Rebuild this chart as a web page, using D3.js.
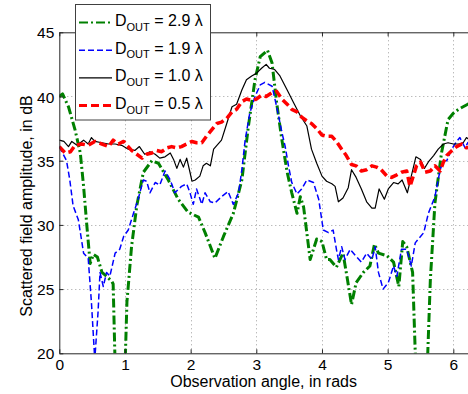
<!DOCTYPE html>
<html>
<head>
<meta charset="utf-8">
<script src="https://cdn.jsdelivr.net/npm/d3@7"></script>
<style>
  html, body { margin: 0; padding: 0; background: #fff; overflow: hidden; }
  svg { display: block; font-family: "Liberation Sans", Arial, sans-serif; }
</style>
</head>
<body>
<svg id="chart" width="468" height="394"></svg>
<script>
// ---- data (angle in rad, amplitude in dB) ----
const xTicks = [0, 1, 2, 3, 4, 5, 6];
const yTicks = [20, 25, 30, 35, 40, 45];
const seriesLabels = ["2.9 λ", "1.9 λ", "1.0 λ", "0.5 λ"];

const green = [[0,40],[0.05,40.2],[0.14,39.2],[0.24,37.4],[0.32,35.6],[0.37,33],[0.42,29.9],[0.47,27.0],[0.52,27.7],[0.58,27.5],[0.65,26.3],[0.72,26],[0.8,25.6],[0.82,25.4],[0.86,17],[0.99,17],[1.03,24],[1.1,28.3],[1.18,31.5],[1.28,34.1],[1.41,35],[1.51,34.8],[1.66,33.5],[1.81,32],[1.96,31],[2.12,30.6],[2.22,29.4],[2.37,27.4],[2.5,29.1],[2.65,30.9],[2.78,33.5],[2.88,37.7],[2.98,41.3],[3.06,43.1],[3.17,43.6],[3.24,42.6],[3.31,39.5],[3.39,36.6],[3.47,34.1],[3.54,32.5],[3.62,30.9],[3.67,32.2],[3.72,31.4],[3.82,27.3],[3.92,28.9],[4.0,28.7],[4.07,27.3],[4.12,27.3],[4.22,26.7],[4.32,27.8],[4.37,26.3],[4.45,23.8],[4.52,25.5],[4.63,26.3],[4.73,26.8],[4.8,28.5],[4.86,27.8],[4.99,27.6],[5.09,27.1],[5.17,25.2],[5.23,28.7],[5.29,28.3],[5.38,26.3],[5.44,17],[5.59,17],[5.65,25.7],[5.72,31.7],[5.82,35.6],[5.92,38.2],[6.0,38.7],[6.08,39],[6.22,39.4],[6.28,39.5]];

const blue = [[0,36.1],[0.11,35],[0.16,33.5],[0.21,31.5],[0.29,30.4],[0.37,27.8],[0.44,27.4],[0.49,23.9],[0.54,19.5],[0.59,23.2],[0.62,26.3],[0.67,25.2],[0.72,26.3],[0.77,26],[0.85,27.8],[0.92,28.1],[0.98,29.1],[1.05,29.6],[1.13,30.9],[1.2,32],[1.28,33.5],[1.33,33.4],[1.38,32.5],[1.46,33.3],[1.53,33.1],[1.61,34.2],[1.69,33.5],[1.76,32.5],[1.86,33],[1.94,33.2],[1.99,32.5],[2.04,31.6],[2.09,32.8],[2.17,31.6],[2.22,32.5],[2.3,31.8],[2.37,31.7],[2.47,32.2],[2.57,32.6],[2.65,31.6],[2.73,32.5],[2.78,34.3],[2.83,36.6],[2.9,38.7],[2.98,40],[3.06,40.9],[3.13,41.1],[3.24,40.8],[3.31,39.2],[3.39,37.2],[3.44,36.1],[3.49,34.6],[3.54,33.3],[3.62,32.4],[3.69,32.8],[3.77,33.5],[3.87,33.3],[3.95,32],[4.02,29.6],[4.1,29.4],[4.17,29.6],[4.22,28.1],[4.25,27.3],[4.3,28.3],[4.35,27.3],[4.43,28.1],[4.51,27.6],[4.6,27.1],[4.68,27.8],[4.76,27.3],[4.81,28.3],[4.86,26.3],[4.93,25],[5.01,25.5],[5.09,26.8],[5.14,26],[5.21,28.1],[5.29,28.1],[5.36,26.8],[5.42,28.6],[5.55,29.4],[5.62,30.9],[5.72,32.2],[5.8,34.3],[5.85,35],[5.9,35],[5.95,35.6],[6.0,36.1],[6.05,36.5],[6.1,36.8],[6.18,36],[6.22,36.4],[6.28,36.6]];

const black = [[0,36.6],[0.07,36.5],[0.14,36.1],[0.19,36.5],[0.27,36.2],[0.37,36.6],[0.44,36.3],[0.49,36.8],[0.54,36.5],[0.65,36.4],[0.75,36.3],[0.85,36.3],[0.95,36.2],[1.05,35.9],[1.15,35.8],[1.22,36.1],[1.3,35.5],[1.38,35.7],[1.46,35.5],[1.53,35.2],[1.61,35.3],[1.69,35.6],[1.74,35.1],[1.79,34.4],[1.84,35.1],[1.89,34.5],[1.94,35.2],[1.99,34.1],[2.02,33.4],[2.07,33.5],[2.14,33.8],[2.19,34.6],[2.24,34.8],[2.3,34.6],[2.35,35.9],[2.4,36.2],[2.47,36.6],[2.55,37.9],[2.63,39.2],[2.7,39.4],[2.78,40.5],[2.85,41.3],[2.93,41.6],[3.0,41.8],[3.08,42.2],[3.15,42.5],[3.2,42.2],[3.28,42.1],[3.36,41.6],[3.47,40.5],[3.57,39.5],[3.67,38.5],[3.77,37.7],[3.84,35.9],[3.92,34.8],[4.0,33.8],[4.07,33.4],[4.15,33.2],[4.2,33],[4.25,31.8],[4.32,32.1],[4.4,32.9],[4.45,34.3],[4.52,33.7],[4.6,32.8],[4.68,31.8],[4.76,31.3],[4.81,31.3],[4.87,32.8],[4.95,32],[5.01,32.8],[5.09,33.3],[5.16,33.2],[5.22,33.5],[5.3,32.5],[5.36,33.8],[5.43,35.3],[5.5,35.1],[5.56,34.4],[5.62,34.9],[5.7,35.4],[5.77,35.9],[5.85,36.3],[5.92,36.4],[6.0,36.3],[6.08,36.3],[6.15,36.4],[6.2,36.8],[6.28,36.5]];

const red = [[0,36.1],[0.09,35.6],[0.17,35.7],[0.24,36.2],[0.34,36.3],[0.44,36.2],[0.54,36.5],[0.65,36.3],[0.75,36.1],[0.82,36.6],[0.9,36.3],[0.98,36.5],[1.03,36.2],[1.1,35.8],[1.18,35.5],[1.26,35.2],[1.33,35.5],[1.41,35.6],[1.48,35.8],[1.56,35.7],[1.64,36],[1.71,36.1],[1.79,36],[1.86,36.1],[1.94,36.3],[2.02,36.5],[2.09,36.4],[2.17,36.4],[2.24,36.9],[2.32,37.4],[2.4,37.9],[2.47,38],[2.55,38.3],[2.63,38.8],[2.7,39],[2.78,39.6],[2.85,39.8],[2.93,39.7],[3.0,39.8],[3.08,40.1],[3.15,40],[3.24,40.3],[3.31,40.4],[3.39,39.8],[3.47,39.4],[3.54,39],[3.62,38.8],[3.69,38.4],[3.77,38.1],[3.84,37.9],[3.92,37.5],[4.0,37],[4.07,36.9],[4.15,36.9],[4.22,36.5],[4.3,35.9],[4.37,35.4],[4.45,34.7],[4.52,34.6],[4.6,34.2],[4.68,34.3],[4.76,34.6],[4.83,34.5],[4.9,34.3],[4.99,33.8],[5.06,33.7],[5.14,33.9],[5.21,34.1],[5.29,34.2],[5.34,33],[5.39,33.8],[5.44,34.6],[5.5,34.9],[5.57,34.1],[5.65,34.2],[5.72,34.6],[5.8,34.2],[5.85,34.9],[5.9,35.4],[5.98,35.8],[6.05,36.1],[6.13,36.3],[6.2,36],[6.28,36.1]];

const seriesData = [green, blue, black, red];
const seriesColors = ["#008000", "#0000ff", "#000000", "#ff0000"];
const seriesWidths = [3, 1.5, 1.2, 3.5];
const seriesDash = ["9,3,2,3", "6,3", null, "8,4"];
const legendWidths = [2.2, 1.5, 1.2, 3];

(function () {
// ---- layout ----
const svg = d3.select("#chart");
const pL = 59.3, pR = 59.3 + 2 * Math.PI * 65.67, pT = 32.3, pB = 353.3;
const x = d3.scaleLinear().domain([0, 2 * Math.PI]).range([pL, pR]);
const y = d3.scaleLinear().domain([20, 45]).range([pB, pT]);

svg.append("rect").attr("width", 468).attr("height", 394).attr("fill", "#fff");

// grid
const grid = svg.append("g").attr("stroke", "#a0a0a0").attr("stroke-width", 1).attr("stroke-dasharray", "1,3");
grid.selectAll(".gx").data(xTicks.filter(d => d > 0)).enter().append("line")
  .attr("x1", d => Math.round(x(d)) + 0.5).attr("x2", d => Math.round(x(d)) + 0.5)
  .attr("y1", pT).attr("y2", pB);
grid.selectAll(".gy").data(yTicks.filter(d => d > 20 && d < 45)).enter().append("line")
  .attr("y1", d => Math.round(y(d)) + 0.5).attr("y2", d => Math.round(y(d)) + 0.5)
  .attr("x1", pL).attr("x2", pR);

// clip
svg.append("clipPath").attr("id", "clip").append("rect")
  .attr("x", pL).attr("y", pT).attr("width", pR - pL).attr("height", pB - pT);

const line = d3.line().x(d => x(d[0])).y(d => y(d[1]));
const plot = svg.append("g").attr("clip-path", "url(#clip)");
seriesData.forEach((s, i) => {
  plot.append("path").datum(s).attr("d", line)
    .attr("fill", "none").attr("stroke", seriesColors[i])
    .attr("stroke-width", seriesWidths[i])
    .attr("stroke-dasharray", seriesDash[i])
    .attr("stroke-linejoin", "round");
});

// axes
const font = 15.5;
const fmt = d3.format("d");
const xAxisB = d3.axisBottom(x).tickValues(xTicks).tickFormat(fmt).tickSizeInner(-4).tickSizeOuter(0).tickPadding(6);
const xAxisT = d3.axisTop(x).tickValues(xTicks).tickSizeInner(-4).tickSizeOuter(0).tickFormat("");
const yAxisL = d3.axisLeft(y).tickValues(yTicks).tickFormat(fmt).tickSizeInner(-4).tickSizeOuter(0).tickPadding(5);

const gxB = svg.append("g").attr("transform", `translate(0,${pB})`).call(xAxisB);
const gxT = svg.append("g").attr("transform", `translate(0,${pT})`).call(xAxisT);
const gyL = svg.append("g").attr("transform", `translate(${pL},0)`).call(yAxisL);
[gxB, gxT, gyL].forEach(g => {
  g.attr("font-size", font).attr("font-family", "'Liberation Sans', Arial, sans-serif");
  g.select(".domain").attr("stroke", "#262626").attr("stroke-width", 1);
  g.selectAll(".tick line").attr("stroke", "#262626");
  g.selectAll("text").attr("fill", "#000");
});
gyL.selectAll("text").attr("dy", "0.36em");
gxB.selectAll("text").attr("dy", "0.71em");

// axis titles
svg.append("text").attr("x", (pL + pR) / 2 - 2).attr("y", 387)
  .attr("text-anchor", "middle").attr("font-size", 16)
  .text("Observation angle, in rads");
svg.append("text").attr("transform", "translate(32,206) rotate(-90)")
  .attr("text-anchor", "middle").attr("font-size", 16)
  .text("Scattered field amplitude, in dB");

// legend
const lg = svg.append("g");
lg.append("rect").attr("x", 75.5).attr("y", 4.5).attr("width", 135).attr("height", 115.5)
  .attr("fill", "#fff").attr("stroke", "#404040").attr("stroke-width", 1);
const baselines = [26, 53.7, 81.4, 109];
seriesLabels.forEach((lab, i) => {
  const by = baselines[i];
  lg.append("line").attr("x1", 79).attr("x2", 112).attr("y1", by - 3.5).attr("y2", by - 3.5)
    .attr("stroke", seriesColors[i]).attr("stroke-width", legendWidths[i])
    .attr("stroke-dasharray", seriesDash[i]);
  const t = lg.append("text").attr("x", 115).attr("y", by).attr("font-size", 16);
  t.append("tspan").text("D");
  t.append("tspan").attr("font-size", 11).attr("dy", 4.5).text("OUT");
  t.append("tspan").attr("dy", -4.5).text(" = " + lab);
});
})();
</script>
</body>
</html>
